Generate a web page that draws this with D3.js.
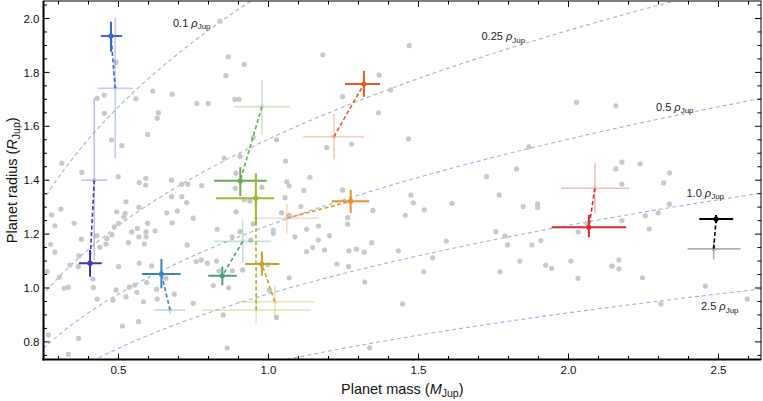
<!DOCTYPE html>
<html><head><meta charset="utf-8">
<script src="https://cdn.jsdelivr.net/npm/d3@7"></script>
<style>body{margin:0;background:#fff}svg{display:block;font-family:"Liberation Sans",Arial,sans-serif}</style>
</head><body><svg id="c" width="763" height="401"></svg>
<script>
// ---------- data ----------
const xMajorTicks = [0.5, 1.0, 1.5, 2.0, 2.5];
const yMajorTicks = [0.8, 1.0, 1.2, 1.4, 1.6, 1.8, 2.0];
const densities = [0.1, 0.25, 0.5, 1.0, 2.5];
const densityLabels = ["0.1", "0.25", "0.5", "1.0", "2.5"];

const planetColors = ["#3c64d2","#4b32b5","#3a86c0","#4a9e82","#6aaa55","#a3b634","#c9a227","#e8912f","#e45b26","#e0282b","#000000"];
// new (solid) estimates
const newM   = [0.475,0.405,0.643,0.846,0.906,0.958,0.978,1.274,1.318,2.068,2.492];
const newMlo = [0.441,0.368,0.578,0.799,0.819,0.825,0.922,1.211,1.255,1.944,2.436];
const newMhi = [0.512,0.444,0.707,0.894,0.994,1.018,1.036,1.336,1.372,2.192,2.549];
const newR   = [1.935,1.092,1.052,1.045,1.398,1.333,1.089,1.322,1.757,1.225,1.256];
const newRlo = [1.877,1.042,0.999,1.010,1.341,1.234,1.045,1.279,1.710,1.188,1.240];
const newRhi = [1.988,1.141,1.108,1.079,1.448,1.426,1.135,1.364,1.806,1.271,1.271];
// previous (faded) estimates
const oldM   = [0.489,0.419,0.672,0.914,0.978,0.959,1.021,1.061,1.218,2.088,2.484];
const oldMlo = [0.431,0.377,0.619,0.819,0.886,0.777,0.894,0.949,1.116,1.975,2.397];
const oldMhi = [0.547,0.463,0.723,1.009,1.072,1.141,1.152,1.169,1.318,2.202,2.574];
const oldR   = [1.741,1.400,0.918,1.173,1.673,0.918,0.949,1.259,1.561,1.370,1.145];
const oldRlo = [1.481,1.104,0.904,1.092,1.571,0.869,0.888,1.203,1.478,1.277,1.106];
const oldRhi = [2.005,1.704,0.928,1.255,1.772,0.968,1.007,1.312,1.646,1.463,1.172];

// known population (gray)
const popM = [0.838,0.866,0.919,0.858,0.492,0.429,0.452,0.453,0.558,0.614,0.679,0.761,0.799,0.888,0.902,0.633,0.629,0.597,0.477,0.511,
0.311,0.378,0.499,0.569,0.591,0.591,0.677,0.711,0.731,0.777,0.852,0.905,0.891,0.889,0.677,0.711,0.949,1.027,1.057,0.978,
1.061,1.069,0.919,0.938,1.055,1.181,1.469,1.369,1.407,1.247,1.367,1.194,1.277,1.467,1.138,1.118,1.247,1.475,1.727,1.769,
1.108,1.043,1.069,1.167,1.264,1.264,1.348,1.127,1.088,1.203,1.016,1.016,1.166,1.127,1.147,1.187,1.268,1.293,1.319,1.344,
1.228,1.267,1.321,1.069,1.027,1.447,1.337,1.433,1.483,1.456,1.519,1.612,1.518,1.547,1.593,1.758,1.788,1.772,2.027,2.158,
1.868,1.827,2.158,2.178,2.239,2.337,2.317,2.178,1.849,1.897,1.897,1.797,1.878,1.908,1.838,1.924,1.944,2.008,2.032,2.061,
2.032,2.145,2.168,2.168,2.178,2.256,2.269,2.299,2.336,2.247,2.456,2.308,2.596,0.277,0.308,0.288,0.352,0.274,0.288,0.368,
0.428,0.438,0.461,0.458,0.478,0.525,0.522,0.494,0.500,0.486,0.544,0.563,0.533,0.568,0.592,0.592,0.586,0.597,0.622,0.661,
0.679,0.696,0.729,0.749,0.727,0.627,0.569,0.594,0.554,0.536,0.629,0.583,0.492,0.481,0.513,0.567,0.611,0.759,0.776,0.749,
0.796,0.827,0.829,0.816,0.867,0.849,0.862,0.892,0.905,0.914,0.367,0.333,0.266,0.319,0.333,0.303,0.262,0.338,0.376,0.429,
0.416,0.415,0.568,0.518,0.366,0.500,0.658,0.525,0.561,0.686,0.879,0.949,0.941,0.835,0.879,0.998,1.003];
const popR = [1.990,1.858,1.830,1.788,1.838,1.704,1.716,1.648,1.702,1.731,1.719,1.685,1.685,1.700,1.700,1.650,1.630,1.570,1.549,1.528,
1.463,1.429,1.413,1.391,1.407,1.382,1.400,1.385,1.385,1.380,1.482,1.489,1.426,1.370,1.339,1.339,1.558,1.550,1.471,1.374,
1.394,1.379,1.327,1.323,1.335,1.865,1.899,1.790,1.735,1.710,1.650,1.521,1.534,1.553,1.411,1.362,1.364,1.345,1.413,1.345,
1.302,1.279,1.270,1.230,1.261,1.237,1.288,1.218,1.190,1.194,1.215,1.203,1.178,1.135,1.150,1.141,1.138,1.144,1.133,1.168,
1.089,1.080,1.022,1.038,0.891,0.941,0.778,1.138,1.316,1.270,1.290,1.314,1.060,1.112,1.174,1.209,1.193,1.060,1.689,1.676,
1.524,1.442,1.442,1.467,1.461,1.427,1.390,1.385,1.302,1.312,1.299,1.160,1.160,1.176,1.100,1.085,1.073,1.100,1.208,1.240,
1.036,1.081,1.104,1.071,1.250,1.268,1.219,1.279,1.311,1.038,1.007,0.941,0.959,1.271,1.293,1.231,1.240,1.162,1.133,1.119,
1.194,1.151,1.184,1.163,1.198,1.320,1.277,1.283,1.240,1.227,1.208,1.221,1.168,1.190,1.190,1.208,1.163,1.240,1.212,1.279,
1.242,1.286,1.160,1.259,1.317,0.995,1.092,1.020,1.011,1.003,0.959,0.949,0.993,0.955,0.859,0.875,1.082,1.098,1.104,0.943,
1.092,1.100,1.218,1.009,1.001,0.900,0.777,1.283,1.209,1.067,0.813,0.754,0.826,0.999,1.003,1.040,1.061,1.085,1.181,0.959,
1.002,1.033,1.300,1.264,1.079,1.079,1.036,0.967,0.984,0.977,1.190,1.238,1.178,1.063,1.064,1.087,0.992];

// ---------- layout ----------
const L = 43.5, R = 761, T = 1, B = 359.5;
const svg = d3.select("#c");
const x = d3.scaleLinear().domain([0.25, 2.6417]).range([L, R]);
const y = d3.scaleLinear().domain([0.7347, 2.0649]).range([B, T]);
const kR = 0.978; // equatorial vs mean Jupiter radius

svg.append("defs").append("clipPath").attr("id","clip")
  .append("rect").attr("x",L).attr("y",T).attr("width",R-L).attr("height",B-T);
const plot = svg.append("g").attr("clip-path","url(#clip)");

// density curves
const massSamples = d3.range(0.2, 2.7, 0.01);
const line = d3.line().x(d=>x(d[0])).y(d=>y(d[1])).curve(d3.curveMonotoneX);
densities.forEach(rho => {
  plot.append("path")
    .attr("d", line(massSamples.map(m => [m, kR*Math.cbrt(m/rho)])))
    .attr("fill","none").attr("stroke","#9fb5dc").attr("stroke-width",1.1)
    .attr("stroke-dasharray","4,3");
});

// population
plot.selectAll("circle.pop").data(popM).join("circle")
  .attr("class","pop").attr("cx",(d)=>x(d)).attr("cy",(d,i)=>y(popR[i]))
  .attr("r",2.6).attr("fill","#c8c8c8");

// faded error bars
function errbar(g, m, mlo, mhi, r, rlo, rhi, col, op, w, dotR){
  const gg = g.append("g").attr("opacity", op);
  gg.append("line").attr("x1",x(mlo)).attr("x2",x(mhi)).attr("y1",y(r)).attr("y2",y(r)).attr("stroke",col).attr("stroke-width",w);
  gg.append("line").attr("x1",x(m)).attr("x2",x(m)).attr("y1",y(rlo)).attr("y2",y(rhi)).attr("stroke",col).attr("stroke-width",w);
  gg.append("circle").attr("cx",x(m)).attr("cy",y(r)).attr("r",dotR).attr("fill",col);
}
planetColors.forEach((c,i) => errbar(plot, oldM[i], oldMlo[i], oldMhi[i], oldR[i], oldRlo[i], oldRhi[i], c, 0.3, 1.6, 2.4));
planetColors.forEach((c,i) => {
  plot.append("line").attr("x1",x(oldM[i])).attr("y1",y(oldR[i])).attr("x2",x(newM[i])).attr("y2",y(newR[i]))
    .attr("stroke",c).attr("stroke-width",1.6).attr("stroke-dasharray","4,2.5");
});
planetColors.forEach((c,i) => errbar(plot, newM[i], newMlo[i], newMhi[i], newR[i], newRlo[i], newRhi[i], c, 1, 2, 2.6));

// density labels
const labelPos = [[173,26.5],[481.5,40],[656,110.5],[686.5,196.5],[701,310]];
densityLabels.forEach((t,i) => {
  const tx = svg.append("text").attr("x",labelPos[i][0]).attr("y",labelPos[i][1])
    .attr("font-size",11).attr("fill","#222");
  tx.append("tspan").text(t + " ");
  tx.append("tspan").attr("font-style","italic").text("ρ");
  tx.append("tspan").attr("font-size",8).attr("dy",2.5).text("Jup");
});

// frame + ticks
const fr = svg.append("g");
fr.append("rect").attr("x",L).attr("y",T).attr("width",R-L).attr("height",B-T)
  .attr("fill","none").attr("stroke","#000").attr("stroke-width",1);
fr.append("line").attr("x1",L).attr("x2",L).attr("y1",T).attr("y2",B+1).attr("stroke","#000").attr("stroke-width",2);
fr.append("line").attr("x1",L-1).attr("x2",R).attr("y1",B).attr("y2",B).attr("stroke","#000").attr("stroke-width",2);

const xMinor = d3.range(0.3, 2.64, 0.1).filter(v => !xMajorTicks.some(t => Math.abs(t-v)<1e-6));
const yMinor = d3.range(0.75, 2.06, 0.05).filter(v => !yMajorTicks.some(t => Math.abs(t-v)<1e-6));
function xt(v, len){
  fr.append("line").attr("x1",x(v)).attr("x2",x(v)).attr("y1",B).attr("y2",B-len).attr("stroke","#000").attr("stroke-width",1);
  fr.append("line").attr("x1",x(v)).attr("x2",x(v)).attr("y1",T).attr("y2",T+len).attr("stroke","#000").attr("stroke-width",1);
}
function yt(v, len){
  fr.append("line").attr("y1",y(v)).attr("y2",y(v)).attr("x1",L).attr("x2",L+len).attr("stroke","#000").attr("stroke-width",1);
  fr.append("line").attr("y1",y(v)).attr("y2",y(v)).attr("x1",R).attr("x2",R-len).attr("stroke","#000").attr("stroke-width",1);
}
xMajorTicks.forEach(v=>xt(v,6)); xMinor.forEach(v=>xt(v,3.5));
yMajorTicks.forEach(v=>yt(v,6)); yMinor.forEach(v=>yt(v,3.5));

xMajorTicks.forEach(v => svg.append("text").attr("x",x(v)).attr("y",373.5).attr("text-anchor","middle")
  .attr("font-size",11.5).attr("fill","#111").text(v.toFixed(1)));
yMajorTicks.forEach(v => svg.append("text").attr("x",39.5).attr("y",y(v)).attr("dy","0.36em").attr("text-anchor","end")
  .attr("font-size",11.5).attr("fill","#111").text(v.toFixed(1)));

// axis titles
const xl = svg.append("text").attr("x",(L+R)/2).attr("y",394).attr("text-anchor","middle").attr("font-size",14.5).attr("fill","#111");
xl.append("tspan").text("Planet mass (");
xl.append("tspan").attr("font-style","italic").text("M");
xl.append("tspan").attr("font-size",10.5).attr("dy",3).text("Jup");
xl.append("tspan").attr("dy",-3).text(")");

const yl = svg.append("text").attr("transform",`translate(16.5,${(T+B)/2}) rotate(-90)`).attr("text-anchor","middle").attr("font-size",14.5).attr("fill","#111");
yl.append("tspan").text("Planet radius (");
yl.append("tspan").attr("font-style","italic").text("R");
yl.append("tspan").attr("font-size",10.5).attr("dy",3).text("Jup");
yl.append("tspan").attr("dy",-3).text(")");
</script></body></html>
